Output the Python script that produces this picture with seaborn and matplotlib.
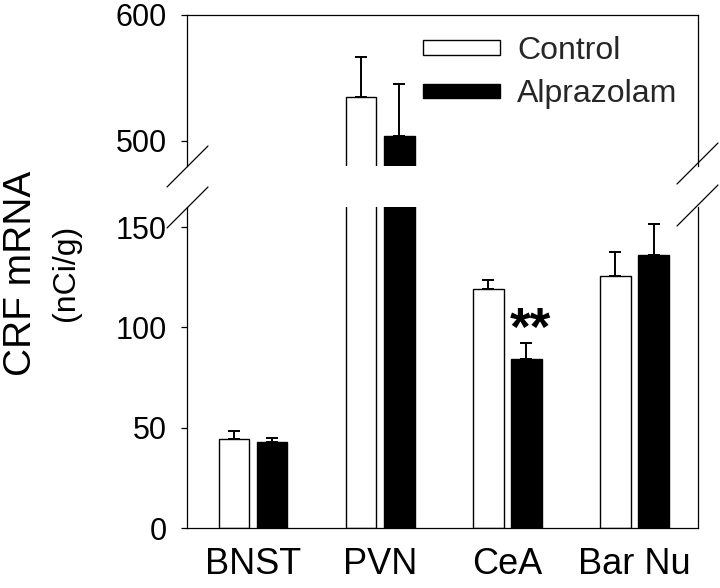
import numpy as np
import pandas as pd
import matplotlib
matplotlib.use("Agg")
import matplotlib.pyplot as plt
from matplotlib.patches import Patch
from matplotlib.lines import Line2D
import seaborn as sns

# ---- data ----
regions = ["BNST", "PVN", "CeA", "Bar Nu"]
groups = ["Control", "Alprazolam"]
control_mean = [44.3, 535.0, 119.0, 125.5]
alpraz_mean = [42.8, 504.0, 84.0, 136.3]
control_sem = [4.1, 32.0, 4.8, 12.0]
alpraz_sem = [2.3, 41.0, 8.0, 15.3]
lower_ticks = [0, 50, 100, 150]
upper_ticks = [500, 600]
sig_label = "**"

sns.set_theme(style="white")
plt.rcParams["font.family"] = ["Liberation Sans", "DejaVu Sans"]

df = pd.DataFrame({
    "region": regions * 2,
    "group": [groups[0]] * 4 + [groups[1]] * 4,
    "value": control_mean + alpraz_mean,
})
means = [control_mean, alpraz_mean]
sems = [control_sem, alpraz_sem]

W, H = 720, 588
fig = plt.figure(figsize=(W / 100, H / 100), dpi=100)

def fx(px):
    return px / W

def fy(py):
    return 1 - py / H

left, right = 187, 698
ax_top = fig.add_axes([fx(left), fy(166), fx(right - left), (166 - 15) / H])
ax_bot = fig.add_axes([fx(left), fy(528), fx(right - left), (528 - 207) / H])

bar_conts = {}
for ax in (ax_top, ax_bot):
    sns.barplot(data=df, x="region", y="value", hue="group", order=regions,
                hue_order=groups, palette=["white", "black"],
                edgecolor="black", linewidth=1.0, width=0.6, gap=0.2,
                errorbar=None, legend=False, ax=ax)
    conts = list(ax.containers)
    bar_conts[ax] = conts
    for i, cont in enumerate(conts):
        xs = [p.get_x() + p.get_width() / 2 for p in cont]
        ax.errorbar(xs, means[i], yerr=[np.zeros(len(xs)), sems[i]], fmt="none",
                    ecolor="black", elinewidth=1.4, capsize=4, capthick=1.4,
                    zorder=3)
    ax.set_xlim(-0.52, 3.5)
    ax.set_xlabel("")
    ax.set_ylabel("")
    for s in ax.spines.values():
        s.set_color("black")
        s.set_linewidth(0.9)
    ax.tick_params(axis="y", direction="out", length=4.5, width=0.9,
                   labelsize=22, pad=10, left=True, colors="black")

ax_top.set_ylim(480, 600)
ax_top.set_yticks(upper_ticks)
ax_top.set_xticks([])
ax_top.spines["bottom"].set_visible(False)

ax_bot.set_ylim(0, 160)
ax_bot.set_yticks(lower_ticks)
ax_bot.spines["top"].set_visible(False)
ax_bot.tick_params(axis="x", length=0, labelsize=26, pad=14, colors="black")

# significance marker above CeA alprazolam bar
p = bar_conts[ax_bot][1][2]
ax_bot.text(p.get_x() + p.get_width() / 2 + 0.03, 98, sig_label, ha="center",
            va="center", fontsize=38, fontweight="bold", color="black")

# legend
handles = [Patch(facecolor="white", edgecolor="black", linewidth=1.0),
           Patch(facecolor="black", edgecolor="black", linewidth=1.0)]
ax_top.legend(handles, groups, loc="upper left",
              bbox_to_anchor=(fx(423), fy(36)), bbox_transform=fig.transFigure,
              frameon=False, borderpad=0, borderaxespad=0, handlelength=2.4,
              handleheight=0.3, handletextpad=0.55, labelspacing=0.42,
              fontsize=23)

# axis break marks
for (x0, y0, x1, y1) in [(167, 228, 208, 187), (167, 187, 208, 146),
                         (677, 226, 718, 185), (677, 184, 718, 143)]:
    fig.add_artist(Line2D([fx(x0), fx(x1)], [fy(y0), fy(y1)],
                          transform=fig.transFigure, color="black", lw=0.9))

# y label
fig.text(fx(21), fy(273), "CRF mRNA", rotation=90, ha="center", va="center",
         fontsize=28, color="black")
fig.text(fx(66), fy(273), "(nCi/g)", rotation=90, ha="center", va="center",
         fontsize=23, color="black")

fig.savefig("out.png", dpi=100)
